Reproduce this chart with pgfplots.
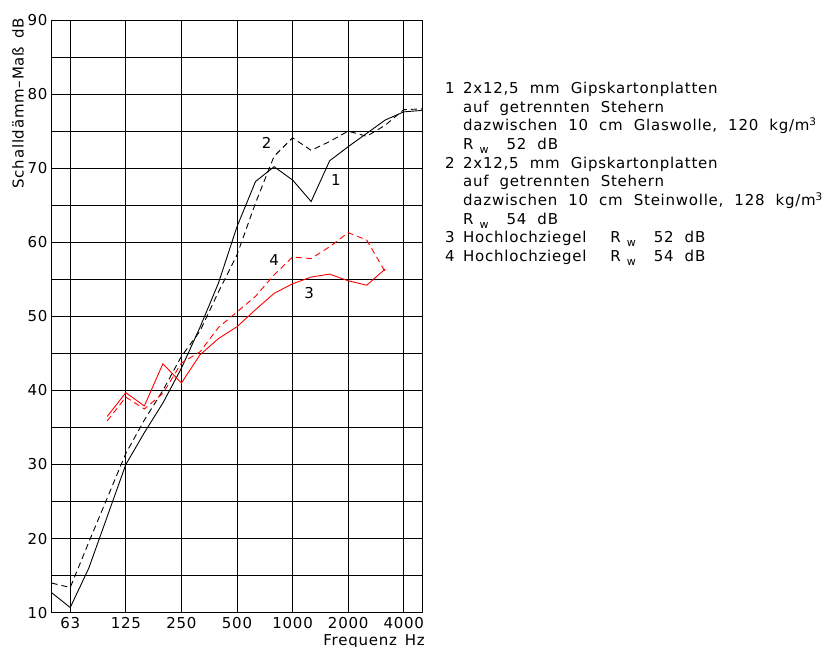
\documentclass[border=0pt]{standalone}
\usepackage{fontspec}
\setmainfont{DejaVu Sans}[LetterSpace=5, WordSpace=2]
\usepackage{pgfplots}
\pgfplotsset{compat=1.18}

% third-octave band index: 0 = 50 Hz, 1 = 63 Hz, ..., 20 = 5000 Hz
\pgfplotstableread{
x   y
0   12.7
1   10.7
2   16.0
3   23.0
4   30.0
5   34.3
6   38.3
7   43.0
8   48.5
9   54.5
10  62.1
11  68.2
12  70.2
13  68.4
14  65.5
15  71.0
16  72.9
17  74.7
18  76.5
19  77.6
20  77.8
}\curveA
\pgfplotstableread{
x   y
0   14.0
1   13.4
2   19.5
3   25.5
4   31.5
5   36.0
6   40.0
7   44.6
8   48.0
9   53.3
10  58.3
11  65.3
12  71.6
13  74.1
14  72.4
15  73.6
16  75.0
17  74.3
18  75.8
19  77.9
20  78.0
}\curveB
\pgfplotstableread{
x   y
3   36.5
4   39.7
5   37.9
6   43.6
7   41.0
8   44.8
9   47.0
10  48.6
11  50.9
12  53.1
13  54.4
14  55.3
15  55.7
16  54.8
17  54.2
18  56.4
}\curveC
\pgfplotstableread{
x   y
3   35.9
4   39.1
5   37.5
6   39.6
7   43.7
8   45.2
9   48.5
10  50.6
11  52.7
12  55.6
13  58.0
14  57.8
15  59.4
16  61.3
17  60.3
18  56.0
}\curveD

\newcommand{\Rw}{R\hspace{6bp}\raisebox{-4bp}{\fontsize{11bp}{11bp}\selectfont w}}

\begin{document}
\fontsize{15bp}{18bp}\selectfont
\begin{tikzpicture}
\path[use as bounding box] (-51.7bp,-34.3bp) rectangle (782.3bp,612.7bp);

\begin{axis}[
  at={(0,0)}, anchor=south west,
  width=370.6bp, height=592.7bp, scale only axis,
  xmin=0, xmax=20, ymin=10, ymax=90,
  xtick={1,4,7,10,13,16,19},
  xticklabels={63,125,250,500,1000,2000,4000},
  ytick={10,20,...,90}, minor ytick={15,25,...,85},
  xmajorgrids, ymajorgrids, yminorgrids,
  major tick length=0pt, minor tick length=0pt,
  grid style={black, line width=0.8bp},
  minor grid style={black, line width=0.8bp},
  axis line style={black, line width=0.9bp},
  tick label style={font=\fontsize{15bp}{18bp}\selectfont},
  /pgf/number format/assume math mode=true,
  xticklabel style={yshift=1bp},
  yticklabel style={xshift=1bp},
]
\addplot[black, line width=0.9bp] table {\curveA};
\addplot[black, line width=0.9bp, dash pattern=on 6bp off 4bp] table {\curveB};
\addplot[red, line width=0.9bp] table {\curveC};
\addplot[red, line width=0.9bp, dash pattern=on 6bp off 4bp] table {\curveD};

\node at (axis cs:11.6,73.4) {2};
\node at (axis cs:15.34,68.4) {1};
\node at (axis cs:12.0,57.6) {4};
\node at (axis cs:13.9,53.2) {3};
\end{axis}

% axis titles
\node[rotate=90, anchor=east, inner sep=0pt] at (-33.7bp,594.7bp)
  {Schalldämm–Maß\hspace{8bp}dB};
\node[anchor=base east, inner sep=0pt] at (373.3bp,-32.3bp)
  {Frequenz\hspace{8bp}Hz};

% description of the curves
\begin{scope}[every node/.style={anchor=base west, inner sep=0pt}]
\node at (393.3bp,519.2bp) {1};
\node at (411.3bp,519.2bp) {2x12,5 mm Gipskartonplatten};
\node at (411.3bp,500.5bp) {auf getrennten Stehern};
\node at (411.3bp,481.9bp) {dazwischen 10 cm Glaswolle, 120 kg/m\textsuperscript{3}};
\node at (411.3bp,463.2bp) {\Rw\hspace{18bp}52 dB};
\node at (393.3bp,444.5bp) {2};
\node at (411.3bp,444.5bp) {2x12,5 mm Gipskartonplatten};
\node at (411.3bp,425.9bp) {auf getrennten Stehern};
\node at (411.3bp,407.2bp) {dazwischen 10 cm Steinwolle, 128 kg/m\textsuperscript{3}};
\node at (411.3bp,388.5bp) {\Rw\hspace{18bp}54 dB};
\node at (393.3bp,369.9bp) {3};
\node at (411.3bp,369.9bp) {Hochlochziegel\hspace{24bp}\Rw\hspace{18bp}52 dB};
\node at (393.3bp,351.2bp) {4};
\node at (411.3bp,351.2bp) {Hochlochziegel\hspace{24bp}\Rw\hspace{18bp}54 dB};
\end{scope}
\end{tikzpicture}
\end{document}
